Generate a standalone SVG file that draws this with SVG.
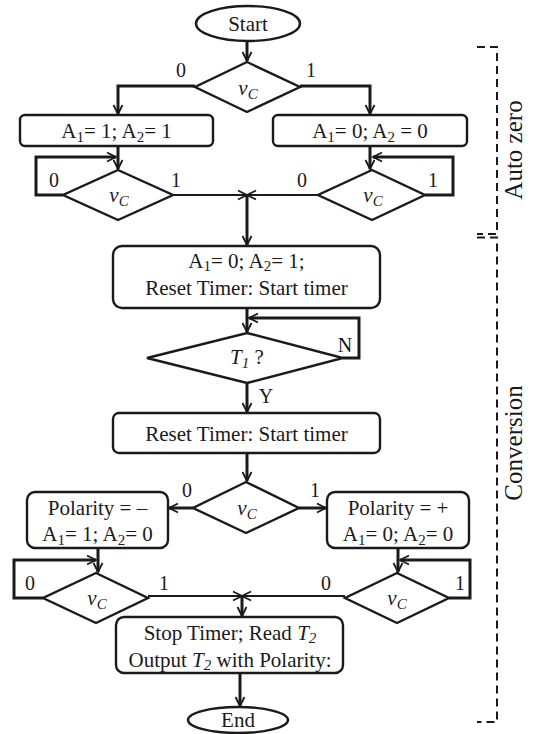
<svg xmlns="http://www.w3.org/2000/svg" width="535" height="734" viewBox="0 0 535 734">
<style>
.shape{fill:#fff;stroke:#1a1a1a;stroke-width:2.4}
.c{fill:none;stroke:#1a1a1a;stroke-width:3;stroke-linejoin:miter}
.ct{fill:none;stroke:#1a1a1a;stroke-width:2}
text{font-family:'Liberation Serif','Times New Roman',Times,'DejaVu Serif',serif;fill:#1a1a1a}
.t{font-size:21px}
.i{font-style:italic}
.sub{font-size:15px}
.lbl{font-size:20px}
.side{font-size:25px}
.br{fill:none;stroke:#1a1a1a;stroke-width:2;stroke-dasharray:8 5}
</style>
<defs>
<marker id="ah" markerUnits="userSpaceOnUse" markerWidth="14" markerHeight="14" viewBox="-12 -7 14 14" refX="0" refY="0" orient="auto">
<path d="M-9,-4.5 L0,0 L-9,4.5" fill="none" stroke="#1a1a1a" stroke-width="1.8"/>
</marker>
</defs>
<rect width="535" height="734" fill="#fff"/>

<g id="connectors">
<path class="c" d="M247,41 V61" marker-end="url(#ah)"/>
<path class="c" d="M195,86 H118 V114" marker-end="url(#ah)"/>
<path class="c" d="M300,86 H370 V114" marker-end="url(#ah)"/>
<path class="c" d="M118,146 V169" marker-end="url(#ah)"/>
<path class="c" d="M370,146 V169" marker-end="url(#ah)"/>
<path class="c" d="M63,195 H36 V157 H116" marker-end="url(#ah)"/>
<path class="c" d="M425,195 H453 V157 H373" marker-end="url(#ah)"/>
<path class="ct" d="M173,195 H247" marker-end="url(#ah)"/>
<path class="ct" d="M318,195 H247" marker-end="url(#ah)"/>
<path class="c" d="M247,195 V245" marker-end="url(#ah)"/>
<path class="c" d="M247,308 V332" marker-end="url(#ah)"/>
<path class="c" d="M343,358 H359 V318 H249" marker-end="url(#ah)"/>
<path class="c" d="M247,383 V412" marker-end="url(#ah)"/>
<path class="c" d="M247,453 V481" marker-end="url(#ah)"/>
<path class="c" d="M193,508 H169" marker-end="url(#ah)"/>
<path class="c" d="M299,508 H326" marker-end="url(#ah)"/>
<path class="c" d="M98,548 V572" marker-end="url(#ah)"/>
<path class="c" d="M398,548 V572" marker-end="url(#ah)"/>
<path class="c" d="M43,598 H14 V560 H96" marker-end="url(#ah)"/>
<path class="c" d="M449,598 H470 V560 H400" marker-end="url(#ah)"/>
<path class="ct" d="M148,596 H242" marker-end="url(#ah)"/>
<path class="ct" d="M345,596 H242" marker-end="url(#ah)"/>
<path class="c" d="M242,596 V616" marker-end="url(#ah)"/>
<path class="c" d="M240,673 V706" marker-end="url(#ah)"/>
</g>

<g id="start">
<ellipse class="shape" cx="248" cy="23.5" rx="52" ry="17.5"/>
<text class="t" x="248" y="31" text-anchor="middle">Start</text>
</g>

<g id="dec1">
<polygon class="shape" points="247,62 300,87 247,112 195,87"/>
<text class="t" x="248" y="95" text-anchor="middle"><tspan class="i">v</tspan><tspan class="i sub" baseline-shift="-4">C</tspan></text>
<text class="lbl" x="181" y="77" text-anchor="middle">0</text>
<text class="lbl" x="311" y="77" text-anchor="middle">1</text>
</g>

<g id="boxA11">
<rect class="shape" x="20" y="115" width="193" height="31" rx="5"/>
<text class="t" x="116.5" y="138" text-anchor="middle">A<tspan class="sub" baseline-shift="-4">1</tspan>= 1; A<tspan class="sub" baseline-shift="-4">2</tspan>= 1</text>
</g>

<g id="boxA00">
<rect class="shape" x="273" y="115" width="194" height="31" rx="5"/>
<text class="t" x="370" y="138" text-anchor="middle">A<tspan class="sub" baseline-shift="-4">1</tspan>= 0; A<tspan class="sub" baseline-shift="-4">2</tspan> = 0</text>
</g>

<g id="dec2">
<polygon class="shape" points="118,170 173,195 118,220 63,195"/>
<text class="t" x="119" y="202" text-anchor="middle"><tspan class="i">v</tspan><tspan class="i sub" baseline-shift="-4">C</tspan></text>
<text class="lbl" x="54" y="187" text-anchor="middle">0</text>
<text class="lbl" x="176" y="187" text-anchor="middle">1</text>
</g>

<g id="dec3">
<polygon class="shape" points="372,170 425,195 372,220 318,195"/>
<text class="t" x="373" y="202" text-anchor="middle"><tspan class="i">v</tspan><tspan class="i sub" baseline-shift="-4">C</tspan></text>
<text class="lbl" x="302" y="187" text-anchor="middle">0</text>
<text class="lbl" x="433" y="187" text-anchor="middle">1</text>
</g>

<g id="boxReset1">
<rect class="shape" x="113" y="246" width="267" height="62" rx="9"/>
<text class="t" x="246.5" y="268" text-anchor="middle">A<tspan class="sub" baseline-shift="-3">1</tspan>= 0; A<tspan class="sub" baseline-shift="-3">2</tspan>= 1;</text>
<text class="t" x="246.5" y="295" text-anchor="middle">Reset Timer: Start timer</text>
</g>

<g id="decT1">
<polygon class="shape" points="247,333 343,358 247,383 147,358"/>
<text class="t" x="247" y="364" text-anchor="middle"><tspan class="i">T</tspan><tspan class="i sub" baseline-shift="-4">1</tspan> ?</text>
<text class="lbl" x="345" y="352" text-anchor="middle">N</text>
<text class="lbl" x="266" y="403" text-anchor="middle">Y</text>
</g>

<g id="boxReset2">
<rect class="shape" x="113" y="413" width="267" height="40" rx="6"/>
<text class="t" x="246.5" y="441" text-anchor="middle">Reset Timer: Start timer</text>
</g>

<g id="dec4">
<polygon class="shape" points="246,482 299,508 246,533 193,508"/>
<text class="t" x="247" y="515" text-anchor="middle"><tspan class="i">v</tspan><tspan class="i sub" baseline-shift="-4">C</tspan></text>
<text class="lbl" x="187" y="497" text-anchor="middle">0</text>
<text class="lbl" x="315" y="497" text-anchor="middle">1</text>
</g>

<g id="boxPolNeg">
<rect class="shape" x="27" y="492" width="141" height="56" rx="8"/>
<text class="t" x="97.5" y="515" text-anchor="middle">Polarity = –</text>
<text class="t" x="97.5" y="541" text-anchor="middle">A<tspan class="sub" baseline-shift="-4">1</tspan>= 1; A<tspan class="sub" baseline-shift="-4">2</tspan>= 0</text>
</g>

<g id="boxPolPos">
<rect class="shape" x="327" y="492" width="142" height="56" rx="8"/>
<text class="t" x="398" y="515" text-anchor="middle">Polarity = +</text>
<text class="t" x="398" y="541" text-anchor="middle">A<tspan class="sub" baseline-shift="-4">1</tspan>= 0; A<tspan class="sub" baseline-shift="-4">2</tspan>= 0</text>
</g>

<g id="dec5">
<polygon class="shape" points="96,573 148,598 96,623 43,598"/>
<text class="t" x="97" y="605" text-anchor="middle"><tspan class="i">v</tspan><tspan class="i sub" baseline-shift="-4">C</tspan></text>
<text class="lbl" x="30" y="590" text-anchor="middle">0</text>
<text class="lbl" x="164" y="590" text-anchor="middle">1</text>
</g>

<g id="dec6">
<polygon class="shape" points="397,573 449,598 397,623 345,598"/>
<text class="t" x="397" y="605" text-anchor="middle"><tspan class="i">v</tspan><tspan class="i sub" baseline-shift="-4">C</tspan></text>
<text class="lbl" x="326" y="590" text-anchor="middle">0</text>
<text class="lbl" x="460" y="590" text-anchor="middle">1</text>
</g>

<g id="boxStop">
<rect class="shape" x="116" y="617" width="227" height="56" rx="8"/>
<text class="t" x="230" y="640" text-anchor="middle">Stop Timer; Read <tspan class="i">T</tspan><tspan class="i sub" baseline-shift="-3">2</tspan></text>
<text class="t" x="230" y="667" text-anchor="middle">Output <tspan class="i">T</tspan><tspan class="i sub" baseline-shift="-3">2</tspan> with Polarity:</text>
</g>

<g id="end">
<ellipse class="shape" cx="238" cy="720" rx="50" ry="13"/>
<text class="t" x="238" y="727" text-anchor="middle">End</text>
</g>

<g id="brackets">
<path class="br" d="M477,47 H497 V234 H477"/>
<path class="br" d="M477,237.5 H497 V722 H477"/>
<text class="side" transform="translate(522,150) rotate(-90)" text-anchor="middle">Auto zero</text>
<text class="side" transform="translate(522,443) rotate(-90)" text-anchor="middle">Conversion</text>
</g>
</svg>
